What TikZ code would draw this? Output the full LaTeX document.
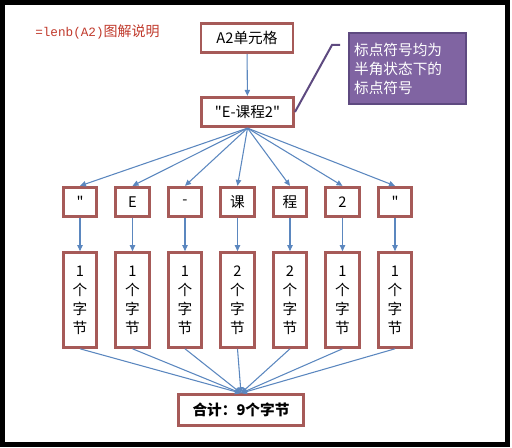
\documentclass[tikz,border=0pt]{standalone}
\usepackage{fontspec}
\newfontfamily\cjk{Noto Sans CJK SC}
\newfontfamily\cjkmono{Liberation Mono}
\usetikzlibrary{positioning,arrows.meta}
\definecolor{boxred}{HTML}{A65A58}
\definecolor{linkblue}{HTML}{5B87BF}
\definecolor{notepurple}{HTML}{8064A2}
\definecolor{noteedge}{HTML}{5E4A80}
\definecolor{titlered}{HTML}{C0392B}
\tikzset{
  cell/.style={draw=boxred,line width=2.2pt,fill=white,inner sep=0pt,
    font=\cjk\fontsize{11pt}{14.2pt}\selectfont,align=center},
  charbox/.style={cell,minimum width=25pt,minimum height=22pt},
  bytebox/.style={cell,minimum width=25pt,minimum height=71pt},
  link/.style={draw=linkblue,line width=0.8pt,-{Triangle[length=4.5pt,width=4pt]}}
}
\begin{document}
\begin{tikzpicture}[x=0.75pt,y=-0.75pt,node distance=39.375pt,on grid]
	\useasboundingbox (0,0) rectangle (512,448);
	\draw[line width=3.75pt] (2.5,2.5) rectangle (507.5,444.5);
	\node[anchor=west,text=titlered,inner sep=0pt] (title) at (35,32)
		{\cjkmono\fontsize{9.5pt}{12pt}\selectfont =lenb(A2)\cjk\fontsize{10.5pt}{12pt}\selectfont 图解说明};
	\node[cell,minimum width=69pt,minimum height=22pt] (cell_a2) at (247,38) {A2单元格};
	\node[cell,minimum width=69pt,minimum height=22pt] (str) at (247.5,112) {"E-课程2"};
	\node[draw=noteedge,line width=1.5pt,fill=notepurple,text=white,align=left,
		minimum width=88pt,minimum height=53pt,text width=80pt,inner sep=3pt,
		font=\cjk\fontsize{11pt}{14.2pt}\selectfont] (note) at (407.5,68.5)
		{标点符号均为\\半角状态下的\\标点符号};
	% characters
	\node[charbox] (c_1) at (80,202) {"};
	\node[charbox] (c_2) [right=of c_1] {E};
	\node[charbox] (c_3) [right=of c_2] {-};
	\node[charbox] (c_4) [right=of c_3] {课};
	\node[charbox] (c_5) [right=of c_4] {程};
	\node[charbox] (c_6) [right=of c_5] {2};
	\node[charbox] (c_7) [right=of c_6] {"};
	% bytes
	\node[bytebox] (b_1) [below=73.5pt of c_1] {1\\个\\字\\节};
	\node[bytebox] (b_2) [below=73.5pt of c_2] {1\\个\\字\\节};
	\node[bytebox] (b_3) [below=73.5pt of c_3] {1\\个\\字\\节};
	\node[bytebox] (b_4) [below=73.5pt of c_4] {2\\个\\字\\节};
	\node[bytebox] (b_5) [below=73.5pt of c_5] {2\\个\\字\\节};
	\node[bytebox] (b_6) [below=73.5pt of c_6] {1\\个\\字\\节};
	\node[bytebox] (b_7) [below=73.5pt of c_7] {1\\个\\字\\节};
	\node[cell,minimum width=94pt,minimum height=23pt,font=\cjk\bfseries\fontsize{11pt}{14pt}\selectfont]
		(sum) at (241,410) {合计：9个字节};
	\coordinate (k_1) at (332,45);
	\coordinate (k_2) at (340,45);
	\draw[noteedge,line width=1.5pt] (str.east) -- (k_1) -- (k_2);
	\draw[link] (cell_a2) -- (str);
	\foreach \i in {1,...,7}
	{
		\draw[link] (str.south) -- (c_\i.north);
		\draw[link] (c_\i) -- (b_\i);
		\draw[link] (b_\i.south) -- (sum.north);
	}
\end{tikzpicture}
\end{document}
